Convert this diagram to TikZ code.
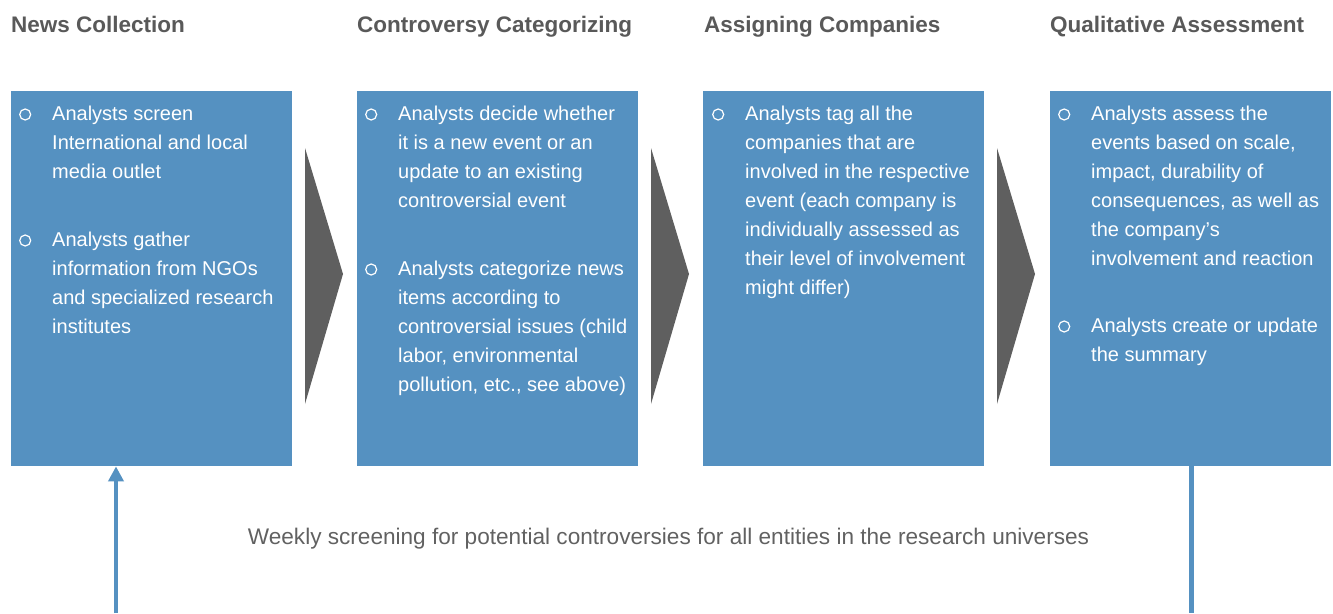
\documentclass[tikz,border=0pt]{standalone}
\usepackage{fontspec}
\setmainfont{Liberation Sans}
\usetikzlibrary{arrows.meta}
\definecolor{boxblue}{HTML}{5591C1}
\definecolor{titlegray}{HTML}{595959}
\definecolor{notegray}{HTML}{616161}
\definecolor{chevgray}{HTML}{5F5F5F}
\tikzset{
  stepbox/.style={fill=boxblue, draw=none, inner sep=0pt, minimum width=281pt, minimum height=375pt, anchor=north west},
  title/.style={anchor=base west, inner sep=0pt, text=titlegray, font=\fontsize{22.5}{27}\selectfont\bfseries},
  bullettext/.style={anchor=north west, inner sep=0pt, align=left, text=white, font=\fontsize{20}{29}\selectfont},
  bulletmark/.style={draw=white, line width=1.2pt, circle, inner sep=0pt, minimum size=11pt},
  chevron/.style={fill=chevgray, draw=none},
  flow/.style={draw=boxblue, line width=4.7pt},
}
\begin{document}
\begin{tikzpicture}[x=1pt,y=-1pt]
\useasboundingbox (0,0) rectangle (1333,613);
% titles
\node[title] (t1) at (11,32.5) {News Collection};
\node[title] (t2) at (357,32.5) {Controversy Categorizing};
\node[title] (t3) at (704,32.5) {Assigning Companies};
\node[title] (t4) at (1050,32.5) {Qualitative Assessment};
% boxes
\node[stepbox] (b1) at (11,91) {};
\node[stepbox] (b2) at (357,91) {};
\node[stepbox] (b3) at (703,91) {};
\node[stepbox] (b4) at (1050,91) {};
% chevrons
\fill[chevron] (305,148) -- (343,274) -- (305,404) -- cycle;
\fill[chevron] (651,148) -- (689,274) -- (651,404) -- cycle;
\fill[chevron] (997,148) -- (1035,274) -- (997,404) -- cycle;
% box 1
\node[bulletmark] (m11) at (25.2,114.5) {};
\node[bullettext] (p11) at (52,99.7) {\strut Analysts screen\\International and local\\media outlet};
\node[bulletmark] (m12) at (25.2,240.5) {};
\node[bullettext] (p12) at (52,225.7) {\strut Analysts gather\\information from NGOs\\and specialized research\\institutes};
% box 2
\node[bulletmark] (m21) at (371.2,114.5) {};
\node[bullettext] (p21) at (398,99.7) {\strut Analysts decide whether\\it is a new event or an\\update to an existing\\controversial event};
\node[bulletmark] (m22) at (371.2,269.5) {};
\node[bullettext] (p22) at (398,254.7) {\strut Analysts categorize news\\items according to\\controversial issues (child\\labor, environmental\\pollution, etc., see above)};
% box 3
\node[bulletmark] (m31) at (718.2,114.5) {};
\node[bullettext] (p31) at (745,99.7) {\strut Analysts tag all the\\companies that are\\involved in the respective\\event (each company is\\individually assessed as\\their level of involvement\\might differ)};
% box 4
\node[bulletmark] (m41) at (1064.2,114.5) {};
\node[bullettext] (p41) at (1091,99.7) {\strut Analysts assess the\\events based on scale,\\impact, durability of\\consequences, as well as\\the company’s\\involvement and reaction};
\node[bulletmark] (m42) at (1064.2,326.5) {};
\node[bullettext] (p42) at (1091,311.7) {\strut Analysts create or update\\the summary};
% bottom
\node[anchor=base, inner sep=0pt, text=notegray, font=\fontsize{22.6}{27}\selectfont] (wk) at (668.5,544.5) {Weekly screening for potential controversies for all entities in the research universes};
\coordinate (in1) at (116,613);
\coordinate (out4) at (1191.5,613);
\draw[flow, -{Triangle[length=15pt,width=15pt]}] (in1) -- (in1 |- b1.south);
\draw[flow] (b4.south -| out4) -- (out4);
\end{tikzpicture}
\end{document}
